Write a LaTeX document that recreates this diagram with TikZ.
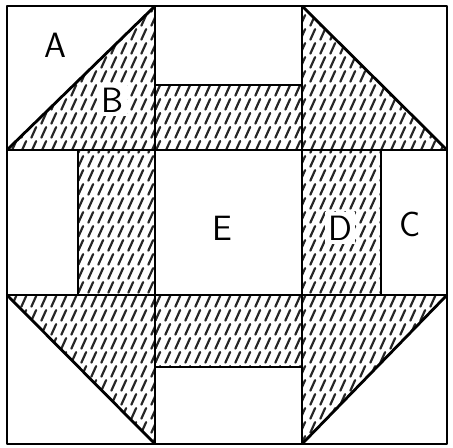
\documentclass[tikz,border=0pt]{standalone}
\usetikzlibrary{patterns.meta}

\tikzdeclarepattern{
  name=quilthatch,
  type=uncolored,
  bounding box={(0pt,0pt) and (5.5pt,8pt)},
  tile size={(5.5pt,8pt)},
  code={
    \draw[line width=1.3pt, line cap=round] (0.8pt,0.8pt) -- (3.6pt,7.2pt);
  }
}

\begin{document}
\begin{tikzpicture}[
    x=0.02cm, y=-0.02cm,
    seam/.style={line width=1.6pt, line join=round},
    patch/.style={pattern=quilthatch, pattern color=black!85},
    letter/.style={font=\sffamily\fontsize{20}{24}\selectfont, inner sep=2pt}
]
\useasboundingbox (0,0) rectangle (453,448);

% hatched patches
\fill[patch] (7,150) -- (155,6) -- (155,150) -- cycle;
\fill[patch] (155,85) rectangle (302,150);
\fill[patch] (302,6) -- (447,150) -- (302,150) -- cycle;
\fill[patch] (78,150) rectangle (155,295);
\fill[patch] (302,150) rectangle (381,295);
\fill[patch] (7,295) -- (155,295) -- (155,444) -- cycle;
\fill[patch] (155,295) rectangle (302,367);
\fill[patch] (302,295) -- (447,295) -- (302,444) -- cycle;

% seams
\draw[seam] (7,6) rectangle (447,444);
\draw[seam] (155,6) -- (155,444);
\draw[seam] (302,6) -- (302,444);
\draw[seam] (7,150) -- (447,150);
\draw[seam] (7,295) -- (447,295);
\draw[seam] (7,150) -- (155,6);
\draw[seam] (302,6) -- (447,150);
\draw[seam] (7,295) -- (155,444);
\draw[seam] (447,295) -- (302,444);
\draw[seam] (155,85) -- (302,85);
\draw[seam] (155,367) -- (302,367);
\draw[seam] (78,150) -- (78,295);
\draw[seam] (381,150) -- (381,295);

% letters
\node[letter] (la) at (55,45) {A};
\node[letter, fill=white] (lb) at (112,100) {B};
\node[letter] (le) at (222,228) {E};
\node[letter, fill=white] (ld) at (340,228) {D};
\node[letter] (lc) at (410,224) {C};
\end{tikzpicture}
\end{document}
